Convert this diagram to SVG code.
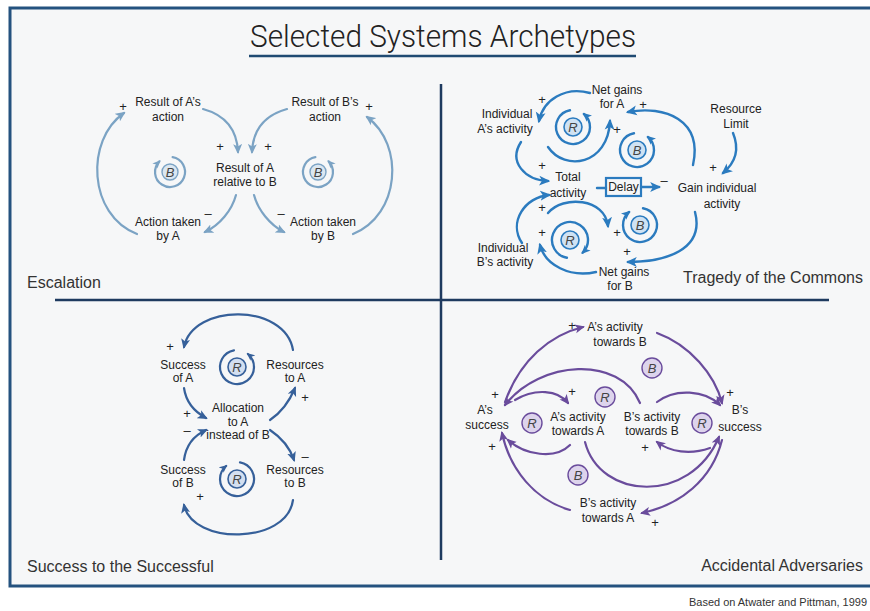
<svg xmlns="http://www.w3.org/2000/svg" width="870" height="611" viewBox="0 0 870 611">
<style>
.t{font-family:"Liberation Sans",Arial,sans-serif;font-size:12px;fill:#222;text-anchor:middle}
.s{font-family:"Liberation Sans",Arial,sans-serif;font-size:13px;fill:#222;text-anchor:middle}
.lbl{font-family:"Liberation Sans",Arial,sans-serif;font-size:16px;fill:#333}
.ltr{font-family:"Liberation Sans",Arial,sans-serif;font-size:13px;font-style:italic;fill:#444;text-anchor:middle}
.esc{fill:none;stroke:#7ba3c4;stroke-width:2.2;stroke-linecap:round}
.toc{fill:none;stroke:#2b7bbf;stroke-width:2.4;stroke-linecap:round}
.sts{fill:none;stroke:#36609a;stroke-width:2.2;stroke-linecap:round}
.acc{fill:none;stroke:#6a4c9c;stroke-width:2.2;stroke-linecap:round}
.cesc{fill:#dbe7f1;stroke:#7ba3c4;stroke-width:1.4}
.ctoc{fill:#cfe2f3;stroke:#2b7bbf;stroke-width:1.6}
.csts{fill:#d3dff0;stroke:#36609a;stroke-width:1.6}
.cacc{fill:#ddd4ec;stroke:#6a4c9c;stroke-width:1.4}
</style>
<defs>
<marker id="aEsc" viewBox="0 0 10 10" refX="8" refY="5" markerWidth="10" markerHeight="10" markerUnits="userSpaceOnUse" orient="auto"><path d="M0,0.5 L10,5 L0,9.5 L2.5,5 z" fill="#7ba3c4"/></marker>
<marker id="aEscS" viewBox="0 0 10 10" refX="8" refY="5" markerWidth="8" markerHeight="8" markerUnits="userSpaceOnUse" orient="auto"><path d="M0,0.5 L10,5 L0,9.5 L2.5,5 z" fill="#7ba3c4"/></marker>
<marker id="aToc" viewBox="0 0 10 10" refX="8" refY="5" markerWidth="11" markerHeight="11" markerUnits="userSpaceOnUse" orient="auto"><path d="M0,0.5 L10,5 L0,9.5 L2.5,5 z" fill="#2b7bbf"/></marker>
<marker id="aTocS" viewBox="0 0 10 10" refX="8" refY="5" markerWidth="9" markerHeight="9" markerUnits="userSpaceOnUse" orient="auto"><path d="M0,0.5 L10,5 L0,9.5 L2.5,5 z" fill="#2b7bbf"/></marker>
<marker id="aSts" viewBox="0 0 10 10" refX="8" refY="5" markerWidth="10" markerHeight="10" markerUnits="userSpaceOnUse" orient="auto"><path d="M0,0.5 L10,5 L0,9.5 L2.5,5 z" fill="#36609a"/></marker>
<marker id="aStsS" viewBox="0 0 10 10" refX="8" refY="5" markerWidth="8" markerHeight="8" markerUnits="userSpaceOnUse" orient="auto"><path d="M0,0.5 L10,5 L0,9.5 L2.5,5 z" fill="#36609a"/></marker>
<marker id="aAcc" viewBox="0 0 10 10" refX="8" refY="5" markerWidth="10" markerHeight="10" markerUnits="userSpaceOnUse" orient="auto"><path d="M0,0.5 L10,5 L0,9.5 L2.5,5 z" fill="#6a4c9c"/></marker>
</defs>
<rect x="0" y="0" width="870" height="611" fill="#ffffff"/>
<rect x="10" y="8" width="875" height="578" fill="#f6f7f8" stroke="#24527f" stroke-width="3"/>
<g id="title">
<text x="443" y="47" font-family="Roboto,'Liberation Sans',sans-serif" font-weight="300" font-size="31" fill="#222" text-anchor="middle" textLength="386" lengthAdjust="spacingAndGlyphs">Selected Systems Archetypes</text>
<line x1="249" y1="56" x2="636" y2="56" stroke="#1f4a72" stroke-width="2.5"/>
</g>
<g id="dividers">
<line x1="55" y1="300" x2="829" y2="300" stroke="#1e3a5f" stroke-width="2.5"/>
<line x1="441" y1="84" x2="441" y2="560" stroke="#1e3a5f" stroke-width="2.5"/>
</g>
<g id="quadrant-labels">
<text class="lbl" x="27" y="288">Escalation</text>
<text class="lbl" x="863" y="283" text-anchor="end">Tragedy of the Commons</text>
<text class="lbl" x="27" y="572">Success to the Successful</text>
<text class="lbl" x="863" y="571" text-anchor="end">Accidental Adversaries</text>
<text x="689" y="606" font-family="'Liberation Sans',Arial,sans-serif" font-size="11" fill="#333" textLength="178" lengthAdjust="spacingAndGlyphs">Based on Atwater and Pittman, 1999</text>
</g>

<!-- Escalation nodes -->
<g id="esc-resultA"><text class="t" x="168" y="106">Result of A’s</text><text class="t" x="168" y="121">action</text></g>
<g id="esc-resultB"><text class="t" x="325" y="106">Result of B’s</text><text class="t" x="325" y="121">action</text></g>
<g id="esc-relative"><text class="t" x="245" y="172">Result of A</text><text class="t" x="245" y="186">relative to B</text></g>
<g id="esc-actionA"><text class="t" x="168" y="226">Action taken</text><text class="t" x="168" y="240">by A</text></g>
<g id="esc-actionB"><text class="t" x="323" y="226">Action taken</text><text class="t" x="323" y="240">by B</text></g>
<g id="esc-loopB1"><circle class="cesc" cx="170" cy="172" r="8"/><text class="ltr" x="170" y="177">B</text></g>
<g id="esc-loopB2"><circle class="cesc" cx="318" cy="172" r="8"/><text class="ltr" x="318" y="177">B</text></g>

<!-- Tragedy nodes -->
<g id="toc-netA"><text class="t" x="617" y="94">Net gains</text><text class="t" x="612" y="108">for A</text></g>
<g id="toc-indA"><text class="t" x="507" y="118">Individual</text><text class="t" x="505" y="133">A’s activity</text></g>
<g id="toc-total"><text class="t" x="568" y="181">Total</text><text class="t" x="568" y="197">activity</text></g>
<g id="toc-delay"><rect x="606" y="178" width="35" height="18" fill="#f6f7f8" stroke="#2b7bbf" stroke-width="2.2"/><text class="t" x="623.5" y="191">Delay</text></g>
<g id="toc-gain"><text class="t" x="717" y="192">Gain individual</text><text class="t" x="722" y="208">activity</text></g>
<g id="toc-limit"><text class="t" x="736" y="113">Resource</text><text class="t" x="736" y="128">Limit</text></g>
<g id="toc-indB"><text class="t" x="503" y="252">Individual</text><text class="t" x="505" y="266">B’s activity</text></g>
<g id="toc-netB"><text class="t" x="624" y="276">Net gains</text><text class="t" x="620" y="290">for B</text></g>
<g id="toc-loopR1"><circle class="ctoc" cx="573" cy="127" r="9"/><text class="ltr" x="573" y="132">R</text></g>
<g id="toc-loopB1"><circle class="ctoc" cx="637" cy="150" r="9"/><text class="ltr" x="637" y="155">B</text></g>
<g id="toc-loopB2"><circle class="ctoc" cx="640" cy="225" r="9"/><text class="ltr" x="640" y="230">B</text></g>
<g id="toc-loopR2"><circle class="ctoc" cx="570" cy="240" r="9"/><text class="ltr" x="570" y="245">R</text></g>

<!-- Success nodes -->
<g id="sts-successA"><text class="t" x="183" y="369">Success</text><text class="t" x="183" y="382">of A</text></g>
<g id="sts-resA"><text class="t" x="295" y="369">Resources</text><text class="t" x="295" y="382">to A</text></g>
<g id="sts-alloc"><text class="t" x="238" y="412">Allocation</text><text class="t" x="238" y="426">to A</text><text class="t" x="238" y="439">instead of B</text></g>
<g id="sts-successB"><text class="t" x="183" y="474">Success</text><text class="t" x="183" y="487">of B</text></g>
<g id="sts-resB"><text class="t" x="295" y="474">Resources</text><text class="t" x="295" y="487">to B</text></g>
<g id="sts-loopR1"><circle class="csts" cx="237" cy="367" r="9"/><text class="ltr" x="237" y="372">R</text></g>
<g id="sts-loopR2"><circle class="csts" cx="237" cy="479" r="9"/><text class="ltr" x="237" y="484">R</text></g>

<!-- Adversaries nodes -->
<g id="acc-actAB"><text class="t" x="615" y="331">A’s activity</text><text class="t" x="620" y="346">towards B</text></g>
<g id="acc-succA"><text class="t" x="485" y="414">A’s</text><text class="t" x="487" y="429">success</text></g>
<g id="acc-actAA"><text class="t" x="578" y="421">A’s activity</text><text class="t" x="578" y="435">towards A</text></g>
<g id="acc-actBB"><text class="t" x="652" y="421">B’s activity</text><text class="t" x="652" y="435">towards B</text></g>
<g id="acc-succB"><text class="t" x="740" y="414">B’s</text><text class="t" x="740" y="431">success</text></g>
<g id="acc-actBA"><text class="t" x="608" y="507">B’s activity</text><text class="t" x="608" y="522">towards A</text></g>
<g id="acc-loopB1"><circle class="cacc" cx="652" cy="368" r="10"/><text class="ltr" x="652" y="373">B</text></g>
<g id="acc-loopR1"><circle class="cacc" cx="605" cy="397" r="10"/><text class="ltr" x="605" y="402">R</text></g>
<g id="acc-loopR2"><circle class="cacc" cx="532" cy="423" r="10"/><text class="ltr" x="532" y="428">R</text></g>
<g id="acc-loopR3"><circle class="cacc" cx="702" cy="423" r="10"/><text class="ltr" x="702" y="428">R</text></g>
<g id="acc-loopB2"><circle class="cacc" cx="578" cy="475" r="10"/><text class="ltr" x="578" y="480">B</text></g>

<g id="connectors">
<!-- Escalation -->
<path class="esc" d="M137,234 C88,215 85,140 124,113" marker-end="url(#aEsc)"/>
<path class="esc" d="M353,234 C400,215 405,145 367,117" marker-end="url(#aEsc)"/>
<path class="esc" d="M203,109 C225,115 237,130 238,152" marker-end="url(#aEsc)"/>
<path class="esc" d="M287,109 C265,115 253,130 252,152" marker-end="url(#aEsc)"/>
<path class="esc" d="M236,195 C232,210 220,225 205,232" marker-end="url(#aEsc)"/>
<path class="esc" d="M254,195 C258,210 270,225 284,232" marker-end="url(#aEsc)"/>
<path class="esc" d="M172.6,157.2 A15,15 0 1 1 159.4,161.4" marker-end="url(#aEscS)"/>
<path class="esc" d="M315.4,157.2 A15,15 0 1 0 328.6,161.4" marker-end="url(#aEscS)"/>
<!-- Tragedy -->
<path class="toc" d="M590,93 C565,86 543,100 539,121" marker-end="url(#aToc)"/>
<path class="toc" d="M521,142 C508,162 525,180 548,181" marker-end="url(#aToc)"/>
<path class="toc" d="M522,243 C508,222 525,197 549,195" marker-end="url(#aToc)"/>
<path class="toc" d="M596,272 C570,278 545,265 540,245" marker-end="url(#aToc)"/>
<path class="toc" d="M548,147 C565,172 608,165 610,121" marker-end="url(#aToc)"/>
<path class="toc" d="M548,213 C563,195 605,198 608,226" marker-end="url(#aToc)"/>
<path class="toc" d="M693,165 C703,120 665,105 628,112" marker-end="url(#aToc)"/>
<path class="toc" d="M695,212 C705,250 665,262 628,262" marker-end="url(#aToc)"/>
<path class="toc" d="M733,133 C740,150 735,163 723,173" marker-end="url(#aToc)"/>
<path class="toc" d="M597,188 L606,188"/>
<path class="toc" d="M641,187 L659,187" marker-end="url(#aToc)"/>
<path class="toc" d="M570,110.3 A17,17 0 1 0 583.9,114" marker-end="url(#aTocS)"/>
<path class="toc" d="M634,133.3 A17,17 0 1 0 647.9,137" marker-end="url(#aTocS)"/>
<path class="toc" d="M643,208.3 A17,17 0 1 1 629.1,212" marker-end="url(#aTocS)"/>
<path class="toc" d="M566.9,257.7 A18,18 0 1 1 582.7,252.7" marker-end="url(#aTocS)"/>
<!-- Success to the Successful -->
<path class="sts" d="M293,350 C285,303 193,303 184,347" marker-end="url(#aSts)"/>
<path class="sts" d="M184,388 C186,402 195,412 206,418" marker-end="url(#aSts)"/>
<path class="sts" d="M184,460 C186,445 195,435 206,430" marker-end="url(#aSts)"/>
<path class="sts" d="M270,420 C282,412 290,400 295,388" marker-end="url(#aSts)"/>
<path class="sts" d="M270,430 C282,438 290,448 294,460" marker-end="url(#aSts)"/>
<path class="sts" d="M293,500 C287,545 192,545 184,505" marker-end="url(#aSts)"/>
<path class="sts" d="M234,350.3 A17,17 0 1 0 247.9,354" marker-end="url(#aStsS)"/>
<path class="sts" d="M240,462.3 A17,17 0 1 1 226.1,466" marker-end="url(#aStsS)"/>
<!-- Accidental Adversaries -->
<path class="acc" d="M505,402 C520,360 550,335 583,327" marker-end="url(#aAcc)"/>
<path class="acc" d="M657,333 C690,345 715,375 722,403" marker-end="url(#aAcc)"/>
<path class="acc" d="M722,440 C712,480 680,505 642,513" marker-end="url(#aAcc)"/>
<path class="acc" d="M570,510 C535,500 510,470 502,433" marker-end="url(#aAcc)"/>
<path class="acc" d="M640,403 C620,355 540,360 505,405" marker-end="url(#aAcc)"/>
<path class="acc" d="M585,442 C600,500 690,505 719,437" marker-end="url(#aAcc)"/>
<path class="acc" d="M515,400 C535,388 558,390 568,403" marker-end="url(#aAcc)"/>
<path class="acc" d="M570,445 C555,460 525,455 508,440" marker-end="url(#aAcc)"/>
<path class="acc" d="M657,402 C675,388 705,390 720,405" marker-end="url(#aAcc)"/>
<path class="acc" d="M710,448 C690,455 670,452 657,442" marker-end="url(#aAcc)"/>
</g>

<g id="polarities">
<text class="s" x="123" y="111">+</text>
<text class="s" x="369" y="111">+</text>
<text class="s" x="220" y="151">+</text>
<text class="s" x="268" y="151">+</text>
<text class="s" x="208" y="218">–</text>
<text class="s" x="281" y="218">–</text>
<text class="s" x="542" y="104">+</text>
<text class="s" x="643" y="109">+</text>
<text class="s" x="617" y="134">+</text>
<text class="s" x="542" y="170">+</text>
<text class="s" x="542" y="212">+</text>
<text class="s" x="542" y="237">+</text>
<text class="s" x="617" y="237">+</text>
<text class="s" x="627" y="256">+</text>
<text class="s" x="713" y="172">+</text>
<text class="s" x="664" y="185">–</text>
<text class="s" x="170" y="351">+</text>
<text class="s" x="305" y="402">+</text>
<text class="s" x="187" y="418">+</text>
<text class="s" x="187" y="435">–</text>
<text class="s" x="305" y="461">–</text>
<text class="s" x="200" y="501">+</text>
<text class="s" x="572" y="330">+</text>
<text class="s" x="495" y="399">+</text>
<text class="s" x="572" y="396">+</text>
<text class="s" x="730" y="397">+</text>
<text class="s" x="492" y="451">+</text>
<text class="s" x="645" y="452">+</text>
<text class="s" x="655" y="527">+</text>
</g>
</svg>
